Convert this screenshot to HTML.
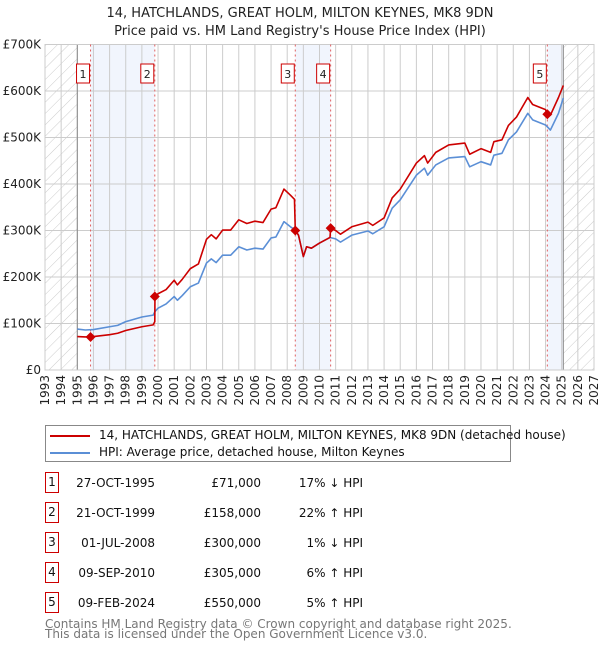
<!DOCTYPE html>
<html><head><meta charset="utf-8"><style>
body{margin:0;background:#fff;font-family:"DejaVu Sans","Liberation Sans",sans-serif;}
#wrap{position:relative;width:600px;height:650px;overflow:hidden;}
svg text{font-family:"DejaVu Sans","Liberation Sans",sans-serif;}
</style></head><body>
<div id="wrap">
<svg id="chart" width="600" height="650">
<defs><pattern id="hatch" width="8" height="8" patternUnits="userSpaceOnUse" patternTransform="rotate(45)"><line x1="0" y1="0" x2="0" y2="8" stroke="#ccc" stroke-width="1"/></pattern></defs>
<text x="300" y="17" text-anchor="middle" font-size="13" fill="#222">14, HATCHLANDS, GREAT HOLM, MILTON KEYNES, MK8 9DN</text>
<text x="300" y="35" text-anchor="middle" font-size="13" fill="#222">Price paid vs. HM Land Registry's House Price Index (HPI)</text>
<g id="plot"></g>
</svg>
<div style="position:absolute;left:45px;top:425px;width:464px;height:35px;border:1px solid #888;font-size:12px;color:#111;">
 <div style="position:absolute;left:4px;top:9px;width:40px;height:2px;background:#cc0000"></div>
 <div style="position:absolute;left:53px;top:2px;white-space:nowrap">14, HATCHLANDS, GREAT HOLM, MILTON KEYNES, MK8 9DN (detached house)</div>
 <div style="position:absolute;left:4px;top:26px;width:40px;height:2px;background:#5b8fd6"></div>
 <div style="position:absolute;left:53px;top:19px;white-space:nowrap">HPI: Average price, detached house, Milton Keynes</div>
</div>
<div id="table"></div>
<div style="position:absolute;left:45px;top:619px;font-size:12px;line-height:10px;color:#777;">Contains HM Land Registry data © Crown copyright and database right 2025.<br>This data is licensed under the Open Government Licence v3.0.</div>
</div>
<script>
const years=[1993,1994,1995,1996,1997,1998,1999,2000,2001,2002,2003,2004,2005,2006,2007,2008,2009,2010,2011,2012,2013,2014,2015,2016,2017,2018,2019,2020,2021,2022,2023,2024,2025,2026,2027];
const yTicks=[0,100,200,300,400,500,600,700];
const yTickLabels=["£0","£100K","£200K","£300K","£400K","£500K","£600K","£700K"];
const hpiT=[1995.0,1995.5,1996,1997,1997.5,1998,1999,1999.7,1999.8,2000,2000.5,2001,2001.2,2001.5,2002,2002.5,2003,2003.3,2003.6,2004,2004.5,2005,2005.5,2006,2006.5,2007,2007.3,2007.8,2008.2,2008.5,2008.7,2009.0,2009.2,2009.5,2010,2010.65,2011,2011.3,2012,2013,2013.3,2014,2014.5,2015,2016,2016.5,2016.7,2017.2,2018,2019,2019.3,2020,2020.6,2020.8,2021.3,2021.7,2022.2,2022.9,2023.2,2024,2024.3,2024.8,2025.1];
const hpiV=[88,86,87,93,96,104,114,118,125,133,142,158,150,160,179,187,230,239,231,247,247,265,258,262,260,284,286,319,308,301,290,244,265,262,273,285,282,275,290,299,293,308,348,366,419,434,419,441,456,459,437,448,441,462,466,495,512,552,538,527,516,552,585];
const redT=[1995.0,1995.5,1996,1997,1997.5,1998,1999,1999.7,1999.8,1999.81,2000,2000.5,2001,2001.2,2001.5,2002,2002.5,2003,2003.3,2003.6,2004,2004.5,2005,2005.5,2006,2006.5,2007,2007.3,2007.8,2008.2,2008.45,2008.5,2008.7,2009.0,2009.2,2009.5,2010,2010.65,2010.69,2011,2011.3,2012,2013,2013.3,2014,2014.5,2015,2016,2016.5,2016.7,2017.2,2018,2019,2019.3,2020,2020.6,2020.8,2021.3,2021.7,2022.2,2022.9,2023.2,2024,2024.1,2024.3,2024.8,2025.1];
const redV=[72,71,72,76,79,85,93,97,104,158,164,173,193,183,195,218,228,281,291,282,301,301,323,315,320,317,346,349,389,376,367,300,290,244,265,262,273,285,305,300,292,308,318,311,327,370,389,445,461,445,468,484,488,464,476,468,491,495,526,544,586,571,560,550,548,586,612];
const saleT=[1995.82,1999.8,2008.5,2010.69,2024.11];
const saleV=[71,158,300,305,550];
const saleLabels=["1","2","3","4","5"];
const saleDates=["27-OCT-1995","21-OCT-1999","01-JUL-2008","09-SEP-2010","09-FEB-2024"];
const salePrices=["£71,000","£158,000","£300,000","£305,000","£550,000"];
const saleHpi=["17% ↓ HPI","22% ↑ HPI","1% ↓ HPI","6% ↑ HPI","5% ↑ HPI"];

const X0=45,X1=594,Y0=370,Y1=44.5;
const xs=t=>X0+(t-1993)/(2027-1993)*(X1-X0);
const ys=v=>Y0-v/700*(Y0-Y1);
const NS="http://www.w3.org/2000/svg";
const g=document.getElementById('plot');
function mk(tag,attrs,parent){const e=document.createElementNS(NS,tag);for(const k in attrs)e.setAttribute(k,attrs[k]);(parent||g).appendChild(e);return e;}
// shaded ownership bands
const bands=[[saleT[0],saleT[1]],[saleT[2],saleT[3]],[saleT[4],2025.1]];
bands.forEach(b=>{const r=mk('rect',{x:xs(b[0]),y:Y1,width:xs(b[1])-xs(b[0]),height:Y0-Y1,fill:'#eef3fc',opacity:0.8});

});
// hatched
[[1993,1995],[2025.1,2027]].forEach(b=>{const r=mk('rect',{x:xs(b[0]),y:Y1,width:xs(b[1])-xs(b[0]),height:Y0-Y1,fill:'url(#hatch)'});

});
// grid
years.forEach(y=>{const l=mk('line',{x1:xs(y),x2:xs(y),y1:Y1,y2:Y0,stroke:'#ccc','stroke-width':1});


const t=mk('text',{x:0,y:0,'font-size':12,fill:'#222','text-anchor':'end',transform:`translate(${xs(y)+4},${Y0+5}) rotate(-90)`});t.textContent=y;

});
yTicks.forEach((v,i)=>{const l=mk('line',{x1:X0,x2:X1,y1:ys(v),y2:ys(v),stroke:'#ccc','stroke-width':1});


const t=mk('text',{x:41,y:ys(v)+4,'font-size':12,fill:'#222','text-anchor':'end'});t.textContent=yTickLabels[i];

});
[1995,2025.1].forEach(y=>{const l=mk('line',{x1:xs(y),x2:xs(y),y1:Y1,y2:Y0,stroke:'#888','stroke-width':1});

});
const fr=mk('rect',{x:X0,y:Y1,width:X1-X0,height:Y0-Y1,fill:'none',stroke:'#ccc'});


// sale vlines and labels
saleT.forEach((t,i)=>{const l=mk('line',{x1:xs(t),x2:xs(t),y1:Y1,y2:Y0,stroke:'#e06060','stroke-width':1,'stroke-dasharray':'2,3'});


const bx=xs(t)-13;const r=mk('rect',{x:bx-1,y:64,width:13,height:19,fill:'#fff',stroke:'#cc0000','stroke-width':1});


const tx=mk('text',{x:bx+5.5,y:78,'font-size':11,'text-anchor':'middle',fill:'#222'});tx.textContent=saleLabels[i];

});
function line(T,V,color,name){const p=mk('polyline',{points:T.map((t,i)=>xs(t)+','+ys(V[i])).join(' '),fill:'none',stroke:color,'stroke-width':1.6,'stroke-linejoin':'round'});

}
line(hpiT,hpiV,'#5b8fd6','hpi-line');
line(redT,redV,'#cc0000','price-paid-line');
saleT.forEach((t,i)=>{const x=xs(t),y=ys(saleV[i]);const p=mk('polygon',{points:`${x},${y-5} ${x+5},${y} ${x},${y+5} ${x-5},${y}`,fill:'#cc0000'});

});
// table
const tb=document.getElementById('table');
saleT.forEach((t,i)=>{const cy=483+i*30;
const row=document.createElement('div');


row.style.cssText=`position:absolute;left:0;top:${cy-10}px;width:600px;height:20px;font-size:12px;color:#111;line-height:20px;`;
row.innerHTML=`<div style="position:absolute;left:45px;top:-1px;width:12px;height:19px;border:1px solid #cc0000;text-align:center;line-height:19px">${saleLabels[i]}</div>`+
`<div style="position:absolute;right:445px;top:0">${saleDates[i]}</div>`+
`<div style="position:absolute;right:339px;top:0">${salePrices[i]}</div>`+
`<div style="position:absolute;right:237px;top:0">${saleHpi[i]}</div>`;
tb.appendChild(row);});
</script>
</body></html>
